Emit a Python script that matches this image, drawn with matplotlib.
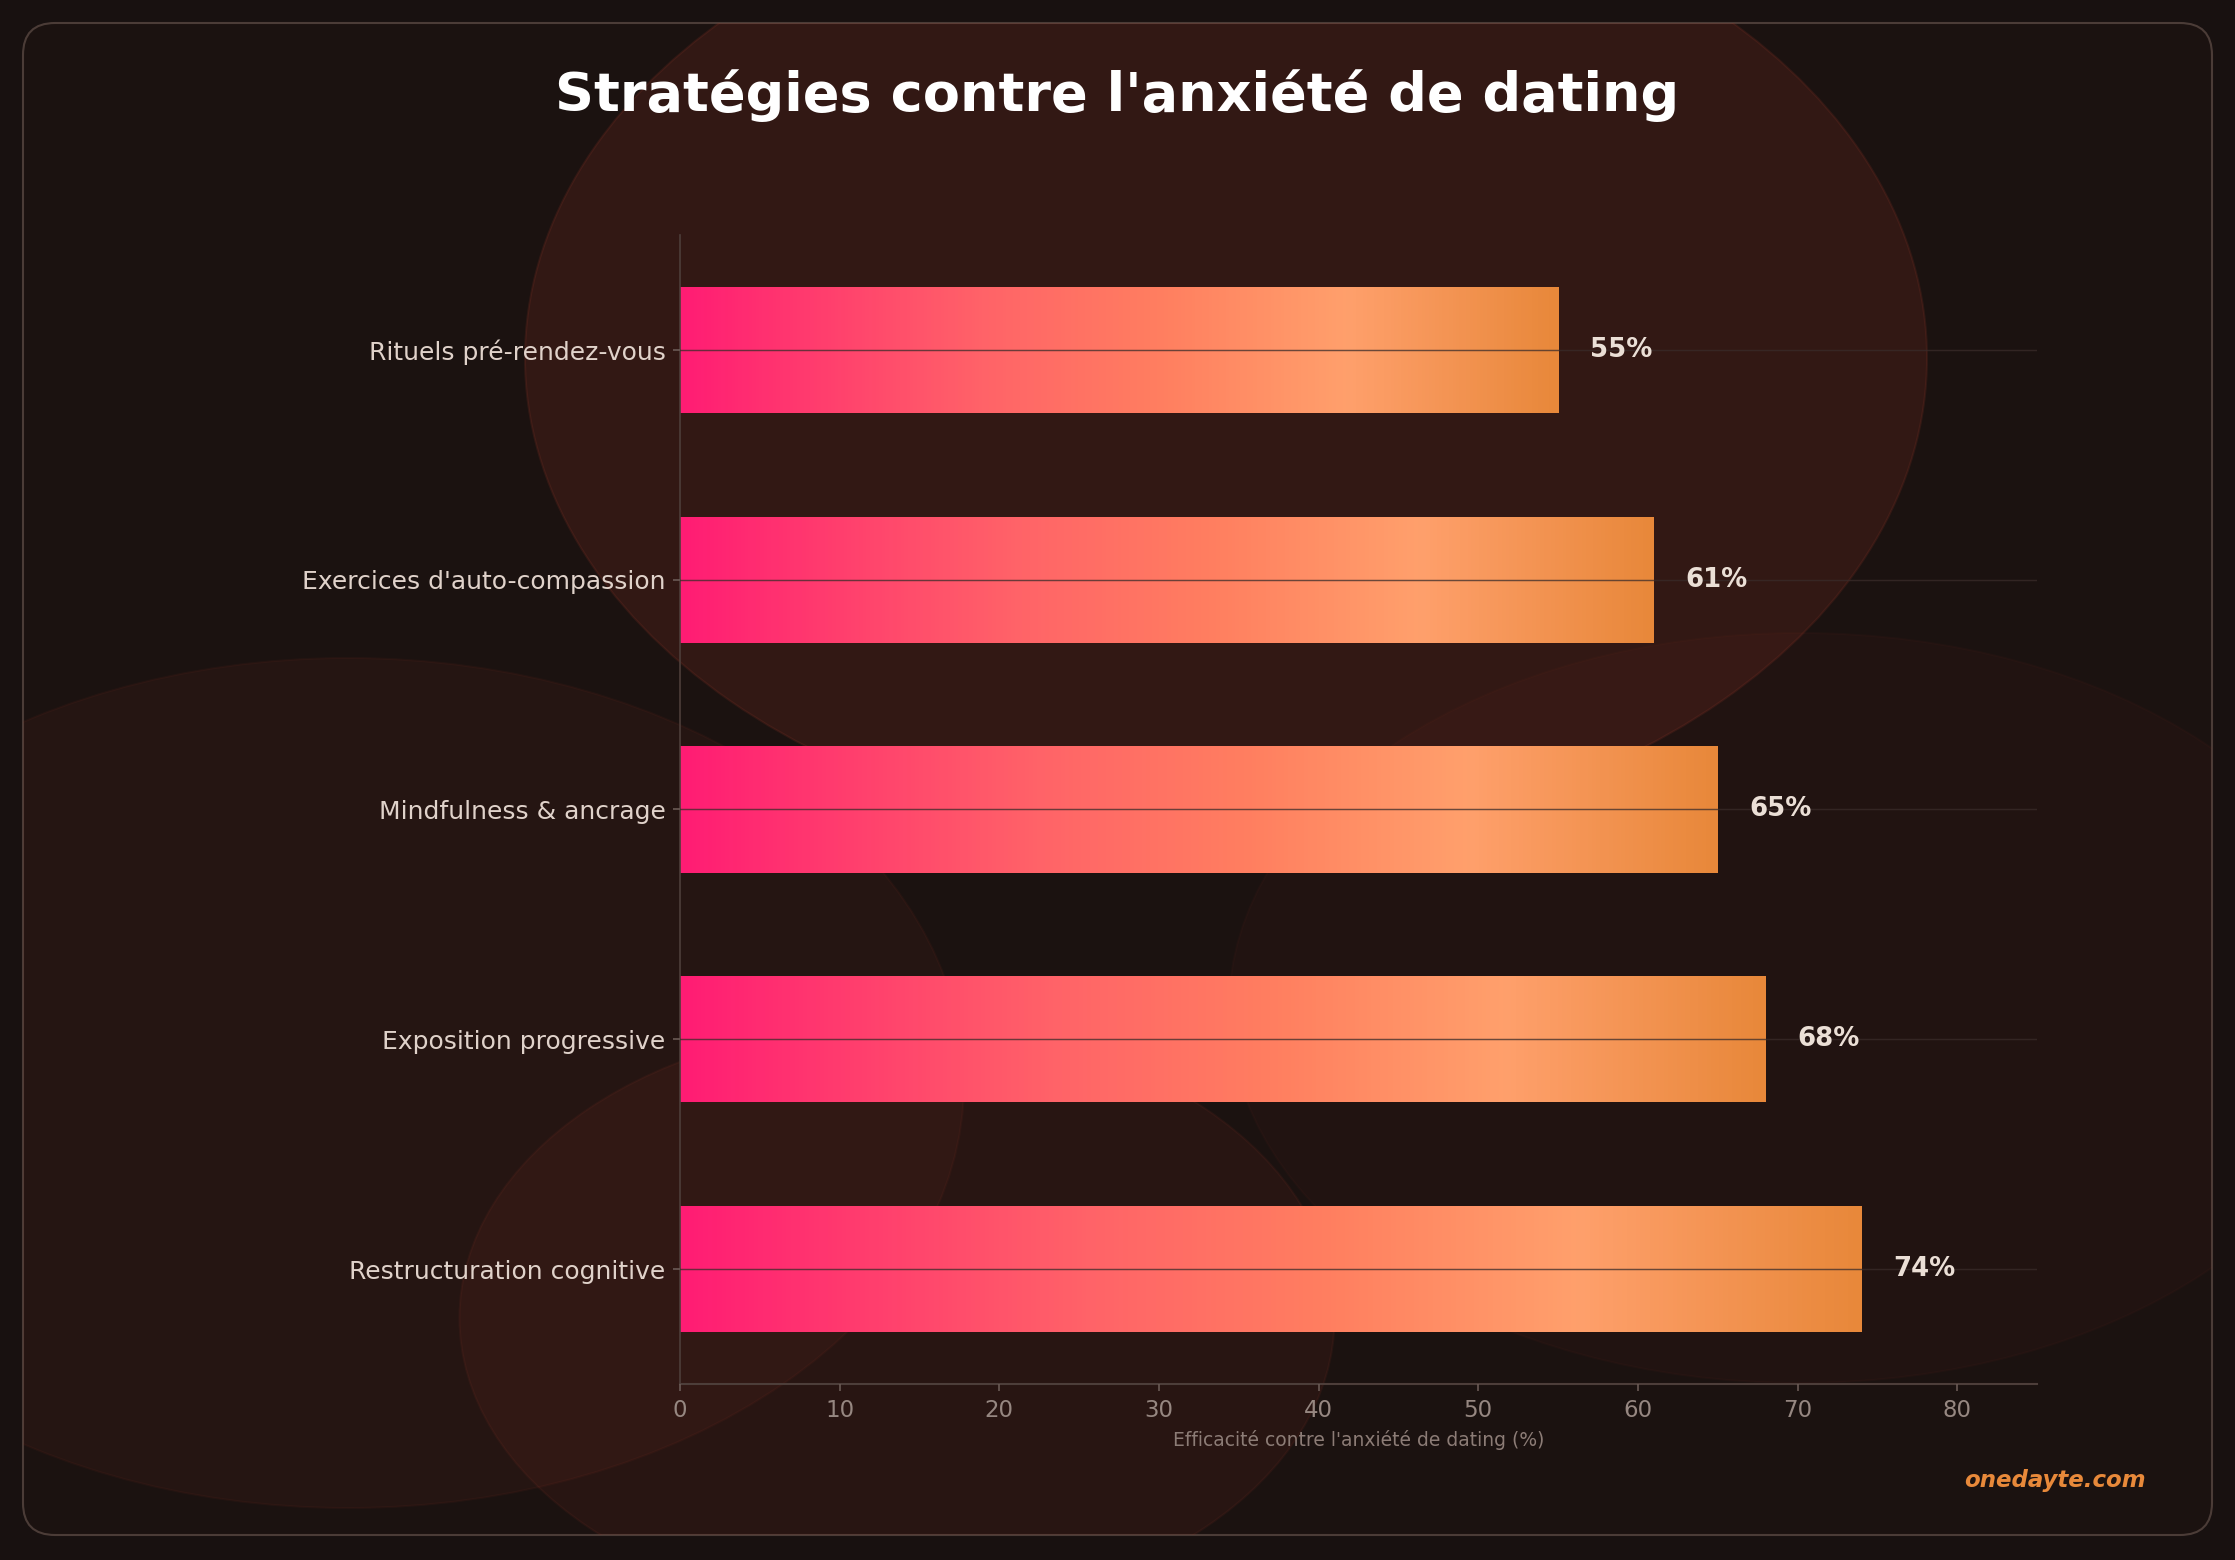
import numpy as np
import matplotlib
matplotlib.use('Agg')
import matplotlib.pyplot as plt
from matplotlib.colors import LinearSegmentedColormap
from matplotlib.patches import FancyBboxPatch, Ellipse

# données
strategies = ['Restructuration cognitive', 'Exposition progressive', 'Mindfulness & ancrage',
              "Exercices d'auto-compassion", 'Rituels pré-rendez-vous']
efficacite = [74, 68, 65, 61, 55]
xticks = [0, 10, 20, 30, 40, 50, 60, 70, 80]

W, H = 2235, 1560
fig = plt.figure(figsize=(W / 150, H / 150), dpi=150)
fig.patch.set_facecolor('#181110')

# fond : cadre arrondi + halos
bg = fig.add_axes([0, 0, 1, 1], zorder=0)
bg.set_xlim(0, W)
bg.set_ylim(H, 0)
bg.axis('off')
cadre = FancyBboxPatch((23, 23), 2189, 1512, boxstyle='round,pad=0,rounding_size=32',
                       facecolor='#1b1210', edgecolor='#4b3c37', lw=1.0)
bg.add_patch(cadre)
halos = [((1226, 358), 1402, 970, 0.138), ((348, 1083), 1232, 850, 0.063),
         ((897, 1318), 875, 590, 0.08), ((1800, 1008), 1142, 750, 0.04)]
for (cx, cy), w, h, a in halos:
    e = Ellipse((cx, cy), w, h, facecolor=(0.78, 0.27, 0.2, a),
                edgecolor=(0.55, 0.2, 0.15, a * 1.4), lw=1.0)
    bg.add_patch(e)
    e.set_clip_path(cadre)

ax = fig.add_axes([680 / W, 1 - 1384 / H, (2037 - 680) / W, (1384 - 235) / H], zorder=1)
ax.set_facecolor('none')

y = np.arange(len(strategies))
bars = ax.barh(y, efficacite, height=0.55, color='none', zorder=2)

cmap = LinearSegmentedColormap.from_list('grad', [
    (0.0, '#ff1c74'), (0.15, '#ff3c6e'), (0.35, '#ff6468'), (0.55, '#ff7f60'),
    (0.76, '#ffa06c'), (1.0, '#e8883a')])
grad = np.linspace(0, 1, 256).reshape(1, -1)
for b in bars:
    x0, y0 = b.get_x(), b.get_y()
    im = ax.imshow(grad, cmap=cmap, aspect='auto', zorder=2,
                   extent=[x0, x0 + b.get_width(), y0, y0 + b.get_height()])
    im.set_clip_path(b)

for yi, v in zip(y, efficacite):
    ax.text(v + 2, yi, f'{v}%', ha='left', va='center', fontsize=12.5,
            fontweight='bold', color='#ebdfd6', zorder=4)

ax.set_xlim(0, 85)
ax.set_ylim(-0.5, len(strategies) - 0.5)
ax.set_yticks(y)
ax.set_yticklabels(strategies, fontsize=12, color='#e0d2ca')
ax.set_xticks(xticks)
ax.tick_params(axis='x', labelsize=11, labelcolor='#968781', color='#6a5a55')
ax.tick_params(axis='y', color='#6a5a55')
ax.set_xlabel("Efficacité contre l'anxiété de dating (%)", fontsize=9, color='#8c7c76')

ax.yaxis.grid(True, color='#3a2c2a', alpha=0.75, lw=0.7, zorder=3)
ax.set_axisbelow(False)
ax.xaxis.grid(False)
for s in ['top', 'right']:
    ax.spines[s].set_visible(False)
ax.spines['left'].set_color('#4d3e3a')
ax.spines['left'].set_linewidth(0.8)
ax.spines['bottom'].set_color('#4d3e3a')
ax.spines['bottom'].set_linewidth(1.0)

fig.text(0.5, 1 - 96 / H, "Stratégies contre l'anxiété de dating", ha='center', va='center',
         fontsize=26, fontweight='bold', color='white')
fig.text(2146 / W, 1 - 1480 / H, 'onedayte.com', ha='right', va='center', fontsize=11,
         fontweight='bold', fontstyle='italic', color='#e8893a')

fig.savefig('out.png', dpi=150, facecolor=fig.get_facecolor())
